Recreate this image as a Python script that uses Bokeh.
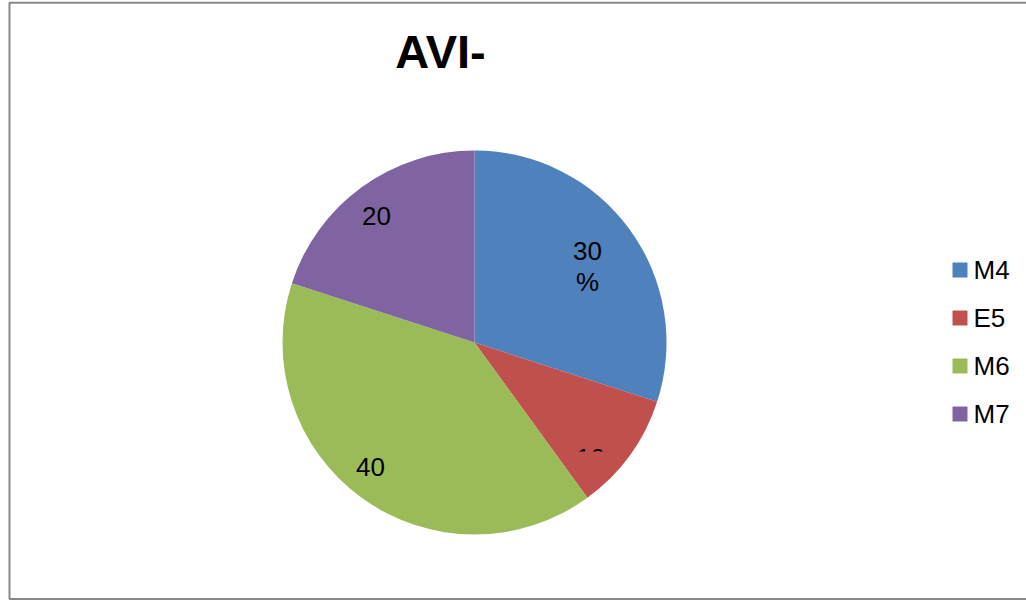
import math
from bokeh.plotting import figure
from bokeh.models import Range1d
from bokeh.core.properties import value
from bokeh.embed import file_html
from bokeh.resources import INLINE

# Data
categories = ["M4", "E5", "M6", "M7"]
values = [30, 10, 40, 20]
label_texts = ["30\n%", "10", "40", "20"]
colors = ["#4F81BD", "#C0504D", "#9BBB59", "#8064A2"]
title_text = "AVI-"

W, H = 1026, 600
FONT = "Liberation Sans"

p = figure(width=W, height=H, output_backend="svg", toolbar_location=None,
           x_range=Range1d(0, W), y_range=Range1d(0, H), min_border=0)
p.axis.visible = False
p.grid.visible = False
p.outline_line_color = None
p.background_fill_color = "white"
p.border_fill_color = "white"

# frame border (gray)
p.line([W + 10, 9, 9, W + 10], [H - 598.5, H - 598.5, H - 2.3, H - 2.3],
       line_color="#888888", line_width=2)

# pie
cx, cy, r = 474, H - 342, 192
total = float(sum(values))
starts, ends = [], []
cum = 0.0
for v in values:
    a0 = math.pi / 2 - cum / total * 2 * math.pi
    cum += v
    a1 = math.pi / 2 - cum / total * 2 * math.pi
    starts.append(a0)
    ends.append(a1)

p.wedge(x=[cx] * len(values), y=[cy] * len(values), radius=r,
        start_angle=starts, end_angle=ends, direction="clock",
        fill_color=colors, line_color=None)

# data labels (positions in pixels from top-left)
label_px = [(587, 266), (590, 457), (370, 466), (376, 215)]
lx = [x for x, _ in label_px]
ly = [H - y for _, y in label_px]
p.text(x=lx, y=ly, text=label_texts, text_font=value(FONT),
       text_font_size="26px", text_align="center", text_baseline="middle",
       text_color="black", text_line_height=1.05)

# the E5 label is clipped in the reference: cover its lower part with slice colour
p.quad(left=[lx[1] - 17], right=[lx[1] + 19], top=[H - 451], bottom=[H - 470],
       fill_color=colors[1], line_color=None)

# title
p.text(x=[440], y=[H - 51], text=[title_text], text_font=value(FONT),
       text_font_size="47px", text_font_style="bold", text_align="center",
       text_baseline="middle", text_color="black")

# legend
leg_y = [H - (269.5 + i * 48) for i in range(len(categories))]
p.scatter(x=[959.5] * len(categories), y=leg_y, marker="square", size=15,
          fill_color=colors, line_color=None)
p.text(x=[973] * len(categories), y=leg_y, text=categories,
       text_font=value(FONT), text_font_size="26px", text_align="left",
       text_baseline="middle", text_color="black")

open("out.html", "w").write(file_html(p, INLINE))
